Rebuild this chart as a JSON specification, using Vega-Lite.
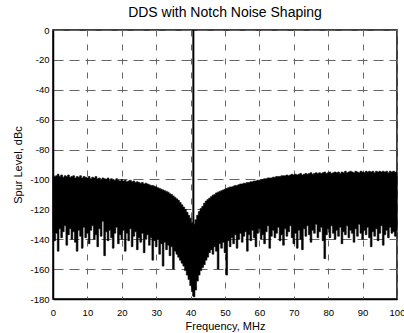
{
 "$schema": "https://vega.github.io/schema/vega-lite/v6.json",
 "width": 344, "height": 269,
 "autosize": "none",
 "padding": {"left": 53, "top": 30, "right": 7, "bottom": 34},
 "background": "white",
 "title": {"text": "DDS with Notch Noise Shaping", "font": "Liberation Sans", "fontSize": 14, "fontWeight": "normal", "color": "black", "anchor": "middle", "frame": "group", "baseline": "bottom", "offset": 6, "dy": 15},
 "config": {
  "view": {"stroke": "black", "strokeWidth": 1.5},
  "font": "Liberation Sans",
  "axis": {"labelFont": "Liberation Sans", "labelFontSize": 9.5, "labelColor": "black", "titleFont": "Liberation Sans", "titleFontSize": 11, "titleFontWeight": "normal", "titleColor": "black", "ticks": false, "domain": true, "domainColor": "black", "domainWidth": 1.5, "grid": true, "gridColor": "#666", "gridOpacity": 1, "gridWidth": 1}
 },
 "layer": [
  {
   "data": {"values": [
    {"f":0,"h":-97,"l":-134},{"f":0.5,"h":-98,"l":-141},{"f":1,"h":-97.5,"l":-136},{"f":1.5,"h":-96.5,"l":-148},{"f":2,"h":-98,"l":-133},{"f":2.5,"h":-97,"l":-139},{"f":3,"h":-98.5,"l":-135},{"f":3.5,"h":-97.5,"l":-131},{"f":4,"h":-98,"l":-144},{"f":4.5,"h":-97,"l":-137},
    {"f":5,"h":-98.5,"l":-133},{"f":5.5,"h":-98,"l":-140},{"f":6,"h":-97.5,"l":-135},{"f":6.5,"h":-99,"l":-142},{"f":7,"h":-98,"l":-148},{"f":7.5,"h":-98.5,"l":-134},{"f":8,"h":-97.5,"l":-138},{"f":8.5,"h":-99,"l":-146},{"f":9,"h":-98,"l":-132},{"f":9.5,"h":-98.5,"l":-139},
    {"f":10,"h":-99,"l":-136},{"f":10.5,"h":-98,"l":-143},{"f":11,"h":-99.5,"l":-134},{"f":11.5,"h":-98.5,"l":-131},{"f":12,"h":-99,"l":-140},{"f":12.5,"h":-98,"l":-137},{"f":13,"h":-99.5,"l":-145},{"f":13.5,"h":-99,"l":-133},{"f":14,"h":-100,"l":-138},{"f":14.5,"h":-99,"l":-128},
    {"f":15,"h":-99.5,"l":-151},{"f":15.5,"h":-100,"l":-135},{"f":16,"h":-99,"l":-141},{"f":16.5,"h":-100.5,"l":-134},{"f":17,"h":-99.5,"l":-139},{"f":17.5,"h":-100,"l":-146},{"f":18,"h":-100.5,"l":-136},{"f":18.5,"h":-99.5,"l":-132},{"f":19,"h":-100.5,"l":-143},{"f":19.5,"h":-101,"l":-137},
    {"f":20,"h":-100,"l":-140},{"f":20.5,"h":-101,"l":-134},{"f":21,"h":-100.5,"l":-148},{"f":21.5,"h":-101.5,"l":-136},{"f":22,"h":-101,"l":-141},{"f":22.5,"h":-100.5,"l":-133},{"f":23,"h":-101.5,"l":-145},{"f":23.5,"h":-101,"l":-138},{"f":24,"h":-102,"l":-135},{"f":24.5,"h":-101.5,"l":-147},
    {"f":25,"h":-102,"l":-139},{"f":25.5,"h":-102.5,"l":-142},{"f":26,"h":-102,"l":-136},{"f":26.5,"h":-103,"l":-149},{"f":27,"h":-102.5,"l":-140},{"f":27.5,"h":-103,"l":-137},{"f":28,"h":-103.5,"l":-144},{"f":28.5,"h":-104,"l":-139},{"f":29,"h":-104,"l":-154},{"f":29.5,"h":-104.5,"l":-141},
    {"f":30,"h":-105,"l":-145},{"f":30.5,"h":-105.5,"l":-140},{"f":31,"h":-106,"l":-150},{"f":31.5,"h":-106.5,"l":-143},{"f":32,"h":-107,"l":-158},{"f":32.5,"h":-107.5,"l":-142},{"f":33,"h":-108,"l":-147},{"f":33.5,"h":-108.5,"l":-144},{"f":34,"h":-109.5,"l":-151},{"f":34.5,"h":-110,"l":-145},
    {"f":35,"h":-111,"l":-160},{"f":35.5,"h":-112,"l":-148},{"f":36,"h":-113,"l":-150},{"f":36.5,"h":-114,"l":-152},{"f":37,"h":-115.5,"l":-154},{"f":37.5,"h":-117,"l":-156},{"f":38,"h":-118.5,"l":-158},{"f":38.5,"h":-120,"l":-161},{"f":39,"h":-122,"l":-164},{"f":39.5,"h":-124,"l":-167},
    {"f":40,"h":-126,"l":-171},{"f":40.5,"h":-129,"l":-175},{"f":41,"h":-130,"l":-178.5},{"f":41.5,"h":-127,"l":-174},{"f":42,"h":-124,"l":-168},{"f":42.5,"h":-121.5,"l":-164},{"f":43,"h":-119.5,"l":-161},{"f":43.5,"h":-118,"l":-159},{"f":44,"h":-116,"l":-157},{"f":44.5,"h":-114.5,"l":-154},
    {"f":45,"h":-113.5,"l":-152},{"f":45.5,"h":-112.5,"l":-149},{"f":46,"h":-111.5,"l":-147},{"f":46.5,"h":-110.5,"l":-150},{"f":47,"h":-110,"l":-145},{"f":47.5,"h":-109,"l":-148},{"f":48,"h":-108.5,"l":-160},{"f":48.5,"h":-108,"l":-143},{"f":49,"h":-107.5,"l":-146},{"f":49.5,"h":-107,"l":-142},
    {"f":50,"h":-106.5,"l":-149},{"f":50.5,"h":-106,"l":-164},{"f":51,"h":-105.5,"l":-141},{"f":51.5,"h":-105,"l":-145},{"f":52,"h":-105,"l":-139},{"f":52.5,"h":-104.5,"l":-143},{"f":53,"h":-104,"l":-137},{"f":53.5,"h":-104,"l":-146},{"f":54,"h":-103.5,"l":-140},{"f":54.5,"h":-103,"l":-136},
    {"f":55,"h":-103,"l":-142},{"f":55.5,"h":-102.5,"l":-138},{"f":56,"h":-102.5,"l":-135},{"f":56.5,"h":-102,"l":-148},{"f":57,"h":-102,"l":-137},{"f":57.5,"h":-101.5,"l":-141},{"f":58,"h":-101.5,"l":-134},{"f":58.5,"h":-101,"l":-139},{"f":59,"h":-101,"l":-145},{"f":59.5,"h":-100.5,"l":-136},
    {"f":60,"h":-100.5,"l":-133},{"f":60.5,"h":-100,"l":-140},{"f":61,"h":-100,"l":-137},{"f":61.5,"h":-99.5,"l":-143},{"f":62,"h":-99.5,"l":-135},{"f":62.5,"h":-99,"l":-131},{"f":63,"h":-99,"l":-146},{"f":63.5,"h":-99,"l":-138},{"f":64,"h":-98.5,"l":-134},{"f":64.5,"h":-98.5,"l":-139},
    {"f":65,"h":-98,"l":-136},{"f":65.5,"h":-98,"l":-132},{"f":66,"h":-98,"l":-141},{"f":66.5,"h":-97.5,"l":-137},{"f":67,"h":-97.5,"l":-144},{"f":67.5,"h":-97.5,"l":-133},{"f":68,"h":-97,"l":-138},{"f":68.5,"h":-97.5,"l":-135},{"f":69,"h":-97,"l":-131},{"f":69.5,"h":-96.5,"l":-139},
    {"f":70,"h":-97,"l":-143},{"f":70.5,"h":-96.5,"l":-136},{"f":71,"h":-97,"l":-146},{"f":71.5,"h":-96.5,"l":-134},{"f":72,"h":-96,"l":-140},{"f":72.5,"h":-97,"l":-147},{"f":73,"h":-96.5,"l":-133},{"f":73.5,"h":-96,"l":-138},{"f":74,"h":-96.5,"l":-131},{"f":74.5,"h":-96,"l":-137},
    {"f":75,"h":-95.5,"l":-142},{"f":75.5,"h":-96.5,"l":-134},{"f":76,"h":-96,"l":-136},{"f":76.5,"h":-95.5,"l":-130},{"f":77,"h":-96,"l":-139},{"f":77.5,"h":-95.5,"l":-135},{"f":78,"h":-96,"l":-132},{"f":78.5,"h":-95.5,"l":-141},{"f":79,"h":-95,"l":-153},{"f":79.5,"h":-96,"l":-137},
    {"f":80,"h":-95.5,"l":-133},{"f":80.5,"h":-95,"l":-139},{"f":81,"h":-96,"l":-131},{"f":81.5,"h":-95.5,"l":-136},{"f":82,"h":-95,"l":-140},{"f":82.5,"h":-95.5,"l":-134},{"f":83,"h":-95,"l":-138},{"f":83.5,"h":-96,"l":-132},{"f":84,"h":-95,"l":-143},{"f":84.5,"h":-95.5,"l":-135},
    {"f":85,"h":-94.5,"l":-137},{"f":85.5,"h":-95.5,"l":-131},{"f":86,"h":-95,"l":-139},{"f":86.5,"h":-94.5,"l":-134},{"f":87,"h":-95,"l":-136},{"f":87.5,"h":-95.5,"l":-142},{"f":88,"h":-94.5,"l":-133},{"f":88.5,"h":-95,"l":-138},{"f":89,"h":-95.5,"l":-130},{"f":89.5,"h":-94.5,"l":-136},
    {"f":90,"h":-95,"l":-140},{"f":90.5,"h":-95.5,"l":-134},{"f":91,"h":-94.5,"l":-137},{"f":91.5,"h":-95,"l":-132},{"f":92,"h":-94.5,"l":-139},{"f":92.5,"h":-95,"l":-145},{"f":93,"h":-94.5,"l":-135},{"f":93.5,"h":-95.5,"l":-138},{"f":94,"h":-94.5,"l":-133},{"f":94.5,"h":-95,"l":-141},
    {"f":95,"h":-94.5,"l":-136},{"f":95.5,"h":-95,"l":-131},{"f":96,"h":-94.5,"l":-144},{"f":96.5,"h":-95,"l":-137},{"f":97,"h":-94.5,"l":-134},{"f":97.5,"h":-95.5,"l":-139},{"f":98,"h":-94.5,"l":-132},{"f":98.5,"h":-95,"l":-136},{"f":99,"h":-94.5,"l":-135},{"f":99.5,"h":-95,"l":-138},
    {"f":100,"h":-95,"l":-134}
   ]},
   "mark": {"type": "area", "color": "black", "interpolate": "step", "stroke": "black", "strokeWidth": 0.6},
   "encoding": {
    "x": {"field": "f", "type": "quantitative", "scale": {"domain": [0, 100], "nice": false, "zero": false},
          "axis": {"values": [0,10,20,30,40,50,60,70,80,90,100], "tickCount": 20, "title": "Frequency, MHz", "labelOverlap": false, "labelExpr": "'' + datum.value", "labelPadding": 8, "titlePadding": 4, "gridDash": [6, 8], "labelFlush": false}},
    "y": {"field": "h", "type": "quantitative", "scale": {"domain": [-180, 0], "nice": false, "zero": false},
          "axis": {"values": [-180,-160,-140,-120,-100,-80,-60,-40,-20,0], "tickCount": 20, "title": "Spur Level, dBc", "labelOverlap": false, "labelExpr": "'' + datum.value", "labelPadding": 4, "titlePadding": 6, "gridDash": [10, 6]}},
    "y2": {"field": "l"}
   }
  },
  {
   "data": {"values": [{"f": 40.8, "top": 0, "bot": -178}]},
   "mark": {"type": "rule", "color": "black", "strokeWidth": 2},
   "encoding": {
    "x": {"field": "f", "type": "quantitative"},
    "y": {"field": "top", "type": "quantitative"},
    "y2": {"field": "bot"}
   }
  }
 ]
}
